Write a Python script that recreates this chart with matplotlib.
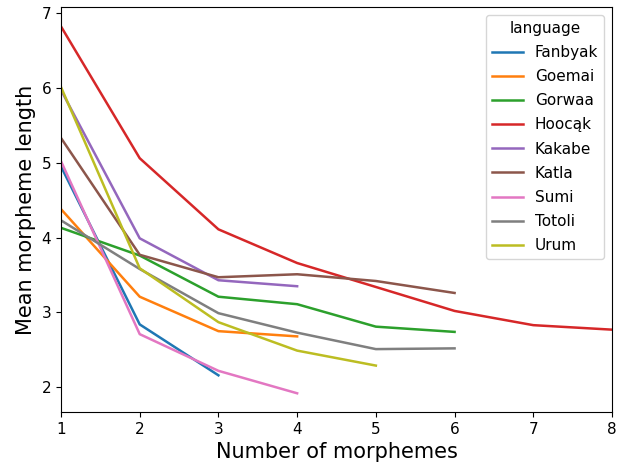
import matplotlib.pyplot as plt

languages = ['Fanbyak', 'Goemai', 'Gorwaa', 'Hoocąk', 'Kakabe', 'Katla', 'Sumi', 'Totoli', 'Urum']
n_morphemes = {
    'Fanbyak': [1, 2, 3],
    'Goemai': [1, 2, 3, 4],
    'Gorwaa': [1, 2, 3, 4, 5, 6],
    'Hoocąk': [1, 2, 3, 4, 5, 6, 7, 8],
    'Kakabe': [1, 2, 3, 4],
    'Katla': [1, 2, 3, 4, 5, 6],
    'Sumi': [1, 2, 3, 4],
    'Totoli': [1, 2, 3, 4, 5, 6],
    'Urum': [1, 2, 3, 4, 5],
}
mean_length = {
    'Fanbyak': [4.95, 2.84, 2.16],
    'Goemai': [4.38, 3.21, 2.75, 2.68],
    'Gorwaa': [4.13, 3.76, 3.21, 3.11, 2.81, 2.74],
    'Hoocąk': [6.82, 5.06, 4.11, 3.66, 3.34, 3.02, 2.83, 2.77],
    'Kakabe': [5.97, 3.99, 3.43, 3.35],
    'Katla': [5.33, 3.77, 3.47, 3.51, 3.42, 3.26],
    'Sumi': [5.02, 2.71, 2.22, 1.92],
    'Totoli': [4.23, 3.58, 2.99, 2.73, 2.51, 2.52],
    'Urum': [6.01, 3.59, 2.87, 2.49, 2.29],
}

fig = plt.figure(figsize=(6.17, 4.68), dpi=100)
ax = fig.add_axes([61/617, 1 - 412/468, 551/617, 405/468])
for lang in languages:
    ax.plot(n_morphemes[lang], mean_length[lang], label=lang, linewidth=1.8)

ax.set_xlim(1, 8)
ax.set_ylim(1.67, 7.08)
ax.set_yticks([2, 3, 4, 5, 6, 7])
ax.tick_params(labelsize=11)
ax.set_xlabel('Number of morphemes', fontsize=15)
ax.set_ylabel('Mean morpheme length', fontsize=15)
ax.legend(title='language', fontsize=11, title_fontsize=11, loc='upper right',
          labelspacing=0.6)

plt.savefig('out.png')
